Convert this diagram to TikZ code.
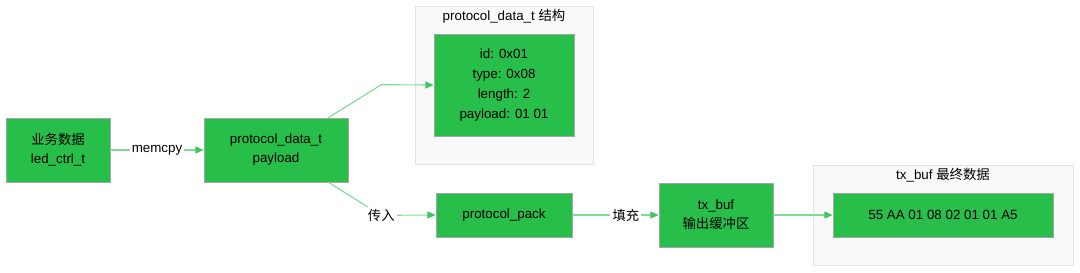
\documentclass[tikz,border=0pt]{standalone}
\usepackage{xcolor}
\usepackage{fontspec}
\setmainfont{Liberation Sans}
\newfontfamily\cjk{Noto Sans CJK SC}
\usepackage{tikz}
\usetikzlibrary{arrows.meta}

\definecolor{verdecaja}{HTML}{27BE4A}
\definecolor{verdelinea}{HTML}{80DC95}
\definecolor{verdepunta}{HTML}{3FC65C}
\definecolor{fondogrupo}{HTML}{F9F9F9}
\definecolor{bordegrupo}{HTML}{E2E2E2}

\begin{document}
\begin{tikzpicture}[x=0.025cm, y=-0.025cm,
  every node/.style={font=\fontsize{9.5}{13.5}\selectfont, align=center, inner sep=0pt},
  caja/.style={rectangle, draw=black!35, fill=verdecaja},
  grupo/.style={rectangle, draw=bordegrupo, fill=fondogrupo},
  flecha/.style={draw=verdelinea, line width=0.8pt,
    -{Triangle[length=6pt, width=5pt, color=verdepunta, fill=verdepunta]}},
  etiqueta/.style={fill=white, inner sep=1.5pt}]
  \useasboundingbox (0,0) rectangle (1080,272);

  % Grupos
  \node[grupo, minimum width=4.45cm, minimum height=3.95cm] (g1) at (504,85) {};
  \node (t1) at (504,16) {protocol\_data\_t {\cjk 结构}};
  \node[grupo, minimum width=6.5cm, minimum height=2.5cm] (g2) at (943,215) {};
  \node (t2) at (943,175) {tx\_buf {\cjk 最终数据}};

  % Nodos
  \node[caja, minimum width=2.6cm, minimum height=1.6cm] (biz) at (58,150) {{\cjk 业务数据}\\led\_ctrl\_t};
  \node[caja, minimum width=3.6cm, minimum height=1.6cm] (payload) at (276,150) {protocol\_data\_t\\payload};
  \node[caja, minimum width=3.5cm, minimum height=2.55cm, font=\fontsize{9.5}{14.2}\selectfont] (struct) at (504,85)
    {id: 0x01\\type: 0x08\\length: 2\\payload: 01 01};
  \node[caja, minimum width=3.4cm, minimum height=1.1cm] (pack) at (504,215) {protocol\_pack};
  \node[caja, minimum width=2.85cm, minimum height=1.6cm] (txbuf) at (716,215) {tx\_buf\\{\cjk 输出缓冲区}};
  \node[caja, minimum width=5.5cm, minimum height=1.1cm] (data) at (943,215) {55 AA 01 08 02 01 01 A5};

  % Aristas
  \draw[flecha] (biz) -- node[etiqueta] {memcpy} (payload);
  \draw[flecha] ([xshift=-0.5cm]payload.north east) -- ++(53,-33) -- (struct.west);
  \draw[flecha] ([xshift=-0.5cm]payload.south east) -- ++(53,33) node[etiqueta] {\cjk 传入} -- (pack.west);
  \draw[flecha] (pack) -- node[etiqueta, pos=0.62] {\cjk 填充} (txbuf);
  \draw[flecha] (txbuf) -- (data);
\end{tikzpicture}
\end{document}
